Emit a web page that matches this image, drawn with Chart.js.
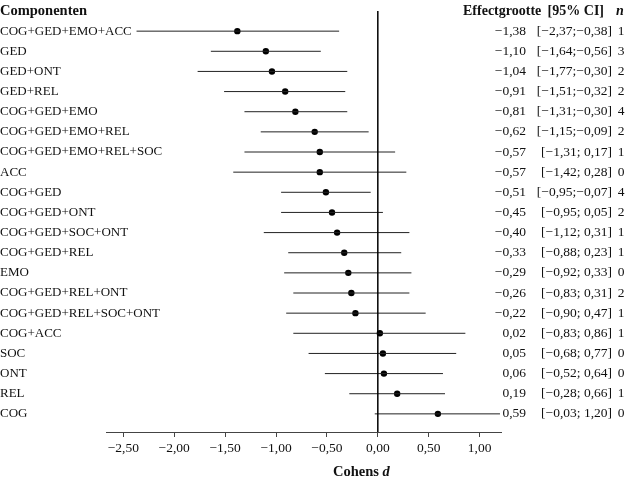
<!DOCTYPE html>
<html lang="nl">
<head>
    <meta charset="UTF-8">
    <title>Componenten forest plot</title>
    <style>
        body {
            margin: 0;
            padding: 0;
            background: #ffffff;
        }
        canvas {
            display: block;
        }
    </style>
    <script src="https://cdn.jsdelivr.net/npm/chart.js"></script>
</head>
<body>
    <canvas id="forestChart" width="628" height="482"></canvas>
    <script>
        // Data
        const componenten = ['COG+GED+EMO+ACC', 'GED', 'GED+ONT', 'GED+REL', 'COG+GED+EMO',
            'COG+GED+EMO+REL', 'COG+GED+EMO+REL+SOC', 'ACC', 'COG+GED', 'COG+GED+ONT',
            'COG+GED+SOC+ONT', 'COG+GED+REL', 'EMO', 'COG+GED+REL+ONT', 'COG+GED+REL+SOC+ONT',
            'COG+ACC', 'SOC', 'ONT', 'REL', 'COG'];
        const effect = [-1.38, -1.10, -1.04, -0.91, -0.81, -0.62, -0.57, -0.57, -0.51, -0.45,
            -0.40, -0.33, -0.29, -0.26, -0.22, 0.02, 0.05, 0.06, 0.19, 0.59];
        const ciLow = [-2.37, -1.64, -1.77, -1.51, -1.31, -1.15, -1.31, -1.42, -0.95, -0.95,
            -1.12, -0.88, -0.92, -0.83, -0.90, -0.83, -0.68, -0.52, -0.28, -0.03];
        const ciHigh = [-0.38, -0.56, -0.30, -0.32, -0.30, -0.09, 0.17, 0.28, -0.07, 0.05,
            0.31, 0.23, 0.33, 0.31, 0.47, 0.86, 0.77, 0.64, 0.66, 1.20];
        const nStudies = [1, 3, 2, 2, 4, 2, 1, 0, 4, 2, 1, 1, 0, 2, 1, 1, 0, 0, 1, 0];
        const xTicks = [-2.5, -2.0, -1.5, -1.0, -0.5, 0.0, 0.5, 1.0];

        const X_MIN = -2.67, X_MAX = 1.21;
        const Y_MIN = -1.0, Y_MAX = 19.9;
        const FONT = '"Liberation Serif", "DejaVu Serif", serif';

        // Dutch number format with a real minus sign
        function fmt(v) {
            const s = Math.abs(v).toFixed(2).replace('.', ',');
            return (v < 0 ? '\u2212' : '') + s;
        }

        // CI segments, separated by a NaN point so the line breaks between rows
        const ciPoints = [];
        componenten.forEach((c, i) => {
            ciPoints.push({ x: ciLow[i], y: i });
            ciPoints.push({ x: ciHigh[i], y: i });
            ciPoints.push({ x: NaN, y: NaN });
        });
        const dotPoints = effect.map((v, i) => ({ x: v, y: i }));

        const textColumns = {
            id: 'textColumns',
            afterDraw(chart) {
                const ctx = chart.ctx;
                const yScale = chart.scales.y;
                ctx.save();
                ctx.fillStyle = '#111';
                ctx.textBaseline = 'middle';

                // headers
                ctx.textAlign = 'left';
                ctx.font = 'bold 14.5px ' + FONT;
                ctx.fillText('Componenten', 0, 11);
                ctx.font = 'bold 14px ' + FONT;
                ctx.fillText('Effectgrootte', 463, 11);
                ctx.textAlign = 'right';
                ctx.fillText('[95% CI]', 604, 11);
                ctx.font = 'italic bold 14px ' + FONT;
                ctx.textAlign = 'center';
                ctx.fillText('n', 620, 11);

                componenten.forEach((label, i) => {
                    const y = yScale.getPixelForValue(i);
                    ctx.font = '13px ' + FONT;
                    ctx.textAlign = 'left';
                    ctx.fillText(label, 0, y);

                    ctx.font = '13.5px ' + FONT;
                    const ci = '[' + fmt(ciLow[i]) + ';' + (ciHigh[i] >= 0 ? ' ' : '') + fmt(ciHigh[i]) + ']';
                    ctx.textAlign = 'right';
                    ctx.fillText(ci, 612, y);
                    const ciLeft = 612 - ctx.measureText(ci).width;
                    ctx.fillText(fmt(effect[i]), Math.min(526, ciLeft - 4), y);

                    ctx.textAlign = 'center';
                    ctx.fillText(String(nStudies[i]), 621, y);
                });

                // x axis title
                ctx.textAlign = 'left';
                ctx.font = 'bold 14.5px ' + FONT;
                ctx.fillText('Cohens ', 333, 472);
                const w = ctx.measureText('Cohens ').width;
                ctx.font = 'italic bold 14.5px ' + FONT;
                ctx.fillText('d', 333 + w, 472);
                ctx.restore();
            }
        };

        new Chart(document.getElementById('forestChart').getContext('2d'), {
            type: 'scatter',
            data: {
                datasets: [
                    {
                        type: 'line',
                        data: [{ x: 0, y: Y_MIN }, { x: 0, y: Y_MAX }],
                        borderColor: '#000',
                        borderWidth: 1.5,
                        pointRadius: 0
                    },
                    {
                        type: 'line',
                        data: ciPoints,
                        borderColor: '#222',
                        borderWidth: 1,
                        pointRadius: 0,
                        spanGaps: false
                    },
                    {
                        data: dotPoints,
                        backgroundColor: '#000',
                        borderColor: '#000',
                        pointRadius: 3.2,
                        borderWidth: 0
                    }
                ]
            },
            options: {
                responsive: false,
                animation: false,
                devicePixelRatio: 1,
                layout: { padding: { left: 106, right: 127, top: 11, bottom: 0 } },
                plugins: {
                    legend: { display: false },
                    tooltip: { enabled: false }
                },
                scales: {
                    x: {
                        type: 'linear',
                        min: X_MIN,
                        max: X_MAX,
                        afterBuildTicks: (scale) => {
                            scale.ticks = xTicks.map(v => ({ value: v }));
                        },
                        afterFit: (scale) => {
                            scale.height = 50;
                        },
                        grid: {
                            drawOnChartArea: false,
                            drawTicks: true,
                            tickLength: 5,
                            color: '#444'
                        },
                        border: { display: true, color: '#444', width: 1 },
                        ticks: {
                            color: '#111',
                            padding: 3,
                            maxRotation: 0,
                            autoSkip: false,
                            font: { family: FONT, size: 13.5 },
                            callback: (v) => fmt(v)
                        }
                    },
                    y: {
                        type: 'linear',
                        display: false,
                        reverse: true,
                        min: Y_MIN,
                        max: Y_MAX
                    }
                }
            },
            plugins: [textColumns]
        });
    </script>
</body>
</html>
